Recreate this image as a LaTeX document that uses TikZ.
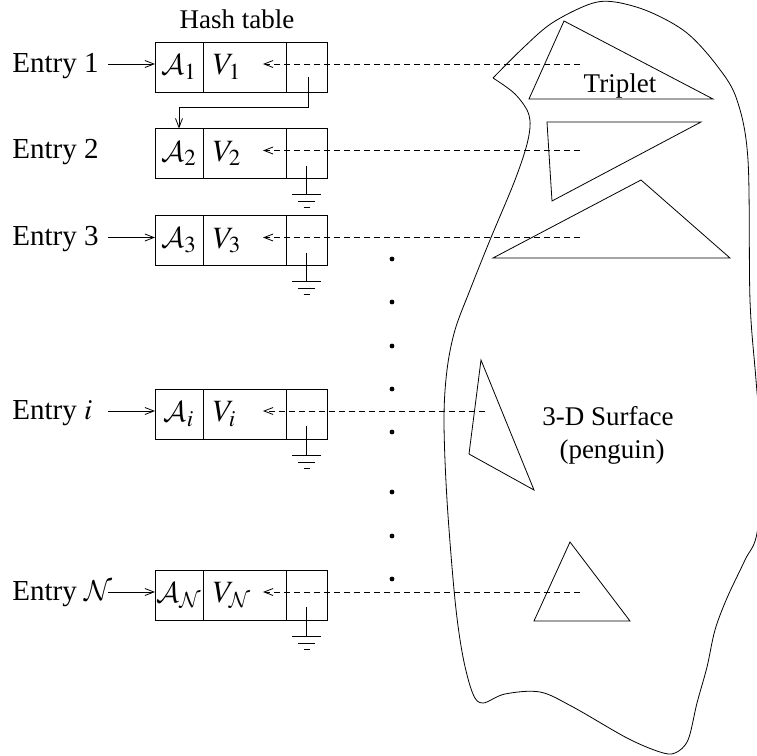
\documentclass[tikz,border=0pt]{standalone}
\usepackage{mathptmx}
\DeclareMathAlphabet{\mathcal}{OMS}{cmsy}{m}{n}
\usepackage{fontspec}
\setmainfont{Liberation Serif}
\usetikzlibrary{positioning,arrows.meta}

\tikzset{
  cell/.style={draw, inner sep=0pt, outer sep=0pt, minimum height=25pt,
               font=\fontsize{15.5}{17}\selectfont},
  keycell/.style={cell, minimum width=24pt, text width=24pt, align=center},
  valcell/.style={cell, minimum width=41.5pt, text width=31.5pt, inner xsep=5pt, align=left},
  ptrcell/.style={cell, minimum width=20.5pt},
  entry/.style={anchor=base west, inner sep=0pt, font=\fontsize{14.5}{17}\selectfont},
  link/.style={-{Straight Barb[length=4.5pt,width=3.5pt]}},
  backref/.style={link, dash pattern=on 3pt off 2pt},
  gnd/.pic={\draw (0,0) -- (0,29) (-14.5,29) -- (14.5,29) (-8.5,36) -- (8.5,36) (-3,42) -- (3,42);}
}

\begin{document}
\begin{tikzpicture}[x=0.5pt, y=-0.5pt, font=\fontsize{13.5}{16.5}\selectfont]
  \useasboundingbox (0,0) rectangle (757,756);
  % Title of the table
  \node[anchor=base] (title) at (237,28) {Hash table};
  % Rows: name / centre y / subscript / label / end of dashed line
  \foreach \r/\cy/\s/\lbl/\tx in {1/67/1/1/580, 2/153.5/2/2/580, 3/240.5/3/3/580,
                                  i/414/i/$i$/485, N/595/\mathcal{N}/$\mathcal{N}$/580} {
    \node[keycell] (a\r) at (179,\cy) {$\mathcal{A}_{\s}$};
    \node[valcell, right=0pt of a\r] (v\r) {$V_{\s}$};
    \node[ptrcell, right=0pt of v\r] (p\r) {};
    \node[entry] (e\r) at (12,\cy+5) {Entry \lbl};
    \coordinate (f\r) at (108,\cy-3);
    \coordinate (t\r) at (\tx,\cy-3);
    \coordinate (h\r) at ([xshift=-11.5pt,yshift=1.5pt]v\r.east);
    \draw[backref] (t\r) -- (h\r);
  }
  % Entry arrows
  \foreach \r in {1,3,i,N}
    \draw[link] (f\r) -- ([yshift=1.5pt]a\r.west);
  % Chain from entry 1 to entry 2
  \draw[link] ([xshift=1pt,yshift=-5pt]p1.center) -- ++(0,30) -| (a2.north);
  % Null pointers
  \foreach \r in {2,3,i,N}
    \pic at ([yshift=-6pt]p\r.center) {gnd};
  % Dots
  \foreach \y in {259,302,346,389,432,492,536,579}
    \fill (392,\y) circle[radius=1.2pt];
  % Surface outline (penguin)
  \begin{scope}
    \clip (0,0) rectangle (757,756);
    \draw plot[smooth, tension=0.55] coordinates {
      (493,78) (523,48) (552,23) (590,4) (615,2) (650,12) (687,33) (718,67)
      (737,100) (748,160) (750,300) (756,380) (762,460) (757,533) (745,560)
      (727,598) (715,630) (707,667) (697,703) (688,740) (675,753) (660,752)
      (627,738) (573,707) (540,692) (505,694) (483,703) (473,694) (463,657)
      (455,600) (447,500) (444,420) (447,370) (455,330) (470,290) (490,240)
      (515,180) (528,140) (529,115) (515,94) (493,78)};
  \end{scope}
  % Triangles
  \draw (564,21) -- (529,99) -- (713,99) -- cycle;
  \draw (547,122) -- (701,122) -- (552,201) -- cycle;
  \draw (641,180) -- (493,258) -- (730,258) -- cycle;
  \draw (481,360) -- (469,454) -- (534,490) -- cycle;
  \draw (570,542) -- (534,621) -- (630,621) -- cycle;
  % Labels
  \node[anchor=base] (triplet) at (620,92) {Triplet};
  \node[anchor=base] (surf) at (608,425) {3-D Surface};
  \node[anchor=base] (peng) at (612,458) {(penguin)};
\end{tikzpicture}
\end{document}
